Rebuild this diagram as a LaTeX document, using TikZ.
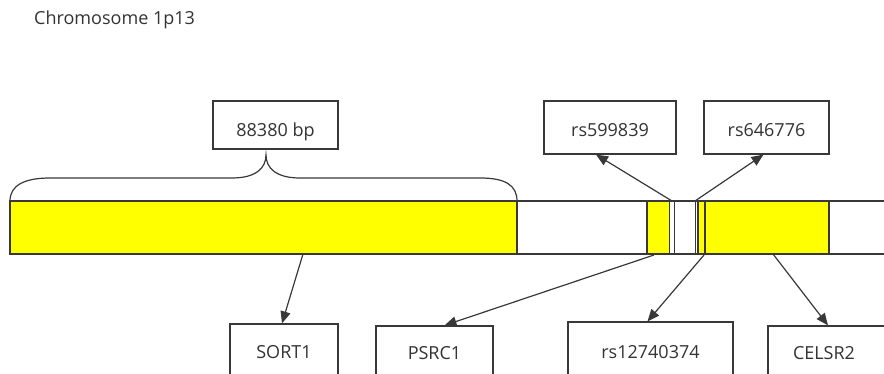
\documentclass[tikz,border=0pt]{standalone}
\usepackage{fontspec}
\setmainfont{Open Sans}
\usetikzlibrary{arrows.meta}
\definecolor{geneColor}{rgb}{1,1,0}
\definecolor{lineColor}{gray}{0.22}

\begin{document}
\begin{tikzpicture}[x=1pt,y=-1pt]

            \tikzstyle{label} = [font=\fontsize{18}{20}\selectfont, text=black!80, inner sep=0pt];
            \tikzstyle{box} = [label, draw=lineColor, line width=1.2pt, fill=white, text depth=0pt];
            \tikzstyle{upper} = [box, text height=19pt];
            \tikzstyle{lower} = [box, text height=12pt];
            \tikzstyle{gene} = [draw=lineColor, line width=1.2pt, fill=geneColor];
            \tikzstyle{snp} = [draw=lineColor, line width=1.2pt];
            \tikzstyle{pointer} = [draw=lineColor, line width=1.2pt, -{Triangle[length=12pt,width=10pt]}];

            \useasboundingbox (0,0) rectangle (884,374);
            \clip (0,0) rectangle (884,374);

            \node[label, anchor=base west] (title) at (34,25) {Chromosome 1p13};

            \draw[snp, fill=white] (10,201) rectangle (900,254);
            \draw[gene] (10,201) rectangle (517,254);
            \draw[gene] (647,201) rectangle (669.5,254);
            \draw[snp] (669.5,201) rectangle (674.5,254);
            \draw[snp] (695.5,201) -- (695.5,254);
            \draw[gene] (698,201) rectangle (829,254);
            \draw[snp, line width=2pt] (704.5,201) -- (704.5,254);

            \draw[snp] (10,201) .. controls (10,185) and (25,178) .. (50,178) -- (232,178)
                .. controls (256,178) and (266,168) .. (266,155)
                .. controls (266,168) and (276,178) .. (300,178) -- (480,178)
                .. controls (505,178) and (517,185) .. (517,201);

            \coordinate (sortPt) at (303,254);
            \coordinate (psrcPt) at (654,255);
            \coordinate (snpA) at (672,201);
            \coordinate (snpB) at (695,201);
            \coordinate (snpC) at (704,255);
            \coordinate (celsrPt) at (773,254);

            \node[upper, minimum width=125, minimum height=48, text height=24pt] (bp) at (275.5,125) {88380 bp};
            \node[upper, minimum width=132, minimum height=53] (rsA) at (610,127.5) {rs599839};
            \node[upper, minimum width=125, minimum height=53] (rsB) at (766.5,127.5) {rs646776};
            \node[lower, minimum width=108, minimum height=56] (sort) at (284,352) {SORT1};
            \node[lower, minimum width=117, minimum height=54] (psrc) at (434.5,353) {PSRC1};
            \node[lower, minimum width=165, minimum height=60] (rsC) at (650.5,352) {rs12740374};
            \node[lower, minimum width=124, minimum height=54, text width=124pt, align=left] (celsr) at (830,353) {\hspace*{25pt}CELSR2};

            \draw[pointer] (snpA) -- ([xshift=-14pt]rsA.south);
            \draw[pointer] (snpB) -- ([xshift=-3pt]rsB.south);
            \draw[pointer] (sortPt) -- ([xshift=-2pt]sort.north);
            \draw[pointer] (psrcPt) -- ([xshift=10pt]psrc.north);
            \draw[pointer] (snpC) -- ([xshift=-3pt]rsC.north);
            \draw[pointer] (celsrPt) -- ([xshift=-2pt]celsr.north);
          \end{tikzpicture}
\end{document}
